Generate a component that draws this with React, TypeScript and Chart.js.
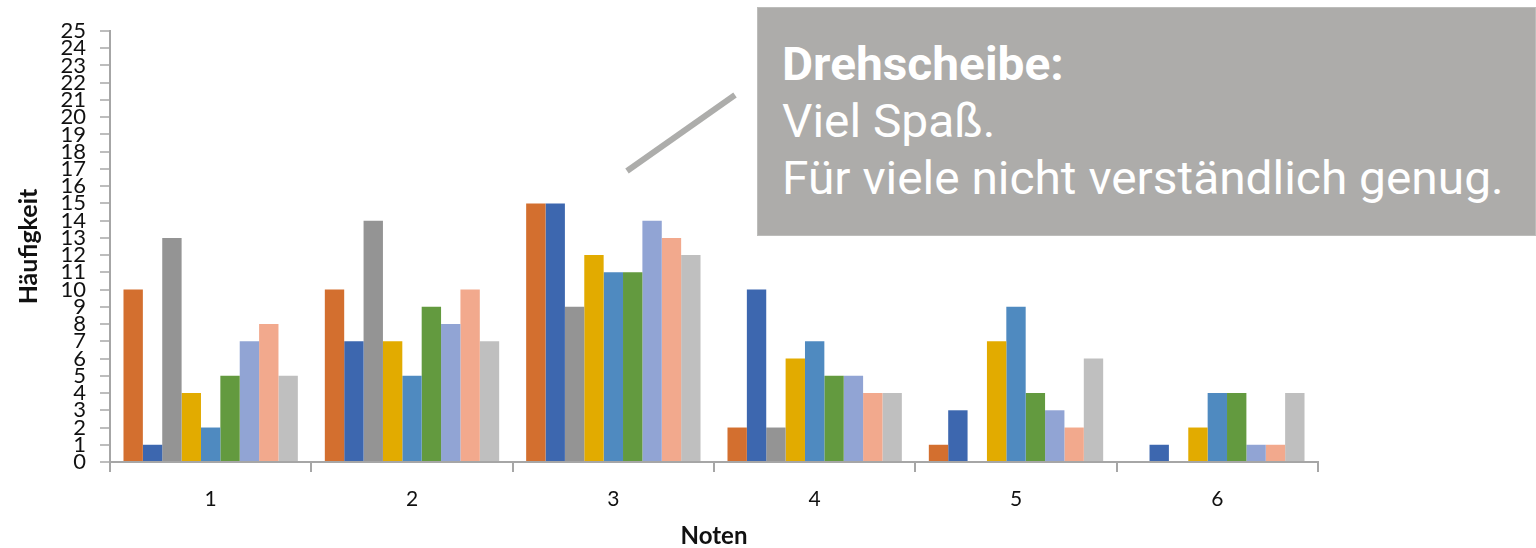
import React, { useEffect, useRef } from "react";
import { Chart, registerables } from "chart.js";

Chart.register(...registerables);

const categories = ["1", "2", "3", "4", "5", "6"];
const series1 = [10, 10, 15, 2, 1, 0];
const series2 = [1, 7, 15, 10, 3, 1];
const series3 = [13, 14, 9, 2, 0, 0];
const series4 = [4, 7, 12, 6, 7, 2];
const series5 = [2, 5, 11, 7, 9, 4];
const series6 = [5, 9, 11, 5, 4, 4];
const series7 = [7, 8, 14, 5, 3, 1];
const series8 = [8, 10, 13, 4, 2, 1];
const series9 = [5, 7, 12, 4, 6, 4];
const seriesList = [series1, series2, series3, series4, series5, series6, series7, series8, series9];
const seriesColors = ["#D36F2F", "#3D67AF", "#949494", "#E2AB00", "#4F8AC0", "#639A3F", "#91A4D4", "#F2A98D", "#BFBFBF"];
const yTicks = Array.from({ length: 26 }, (_, i) => i);

export default function App() {
  const canvasRef = useRef<HTMLCanvasElement | null>(null);

  useEffect(() => {
    if (!canvasRef.current) return;
    const chart = new Chart(canvasRef.current, {
      type: "bar",
      data: {
        labels: categories,
        datasets: seriesList.map((d, i) => ({
          label: "Reihe " + (i + 1),
          data: d,
          backgroundColor: seriesColors[i],
          borderWidth: 0,
          barPercentage: 1,
          categoryPercentage: 0.866,
        })),
      },
      options: {
        responsive: false,
        animation: false,
        layout: { padding: { left: 0, right: 218, top: 31, bottom: 0 } },
        plugins: { legend: { display: false }, tooltip: { enabled: false } },
        scales: {
          x: {
            afterFit: (s: any) => { s.height = 86; },
            grid: { display: true, drawOnChartArea: false, drawTicks: true, tickLength: 10, color: "#A6A6A6", lineWidth: 2, offset: true },
            border: { display: true, color: "#A6A6A6", width: 2 },
            ticks: { font: { family: "Lato", size: 21 }, color: "#111", padding: 15 },
            title: { display: true, text: "Noten", font: { family: "Lato", size: 24, weight: "bold", lineHeight: 1 }, color: "#111", padding: { top: 4, bottom: 0 } },
          },
          y: {
            min: 0,
            max: 25,
            afterFit: (s: any) => { s.width = 110; },
            afterBuildTicks: (s: any) => { s.ticks = yTicks.map((v) => ({ value: v })); },
            grid: { display: true, drawOnChartArea: false, drawTicks: true, tickLength: 10, color: "#BDBDBD", lineWidth: 2 },
            border: { display: true, color: "#A6A6A6", width: 2 },
            ticks: { stepSize: 1, autoSkip: false, font: { family: "Lato", size: 22 }, color: "#111", padding: 14 },
            title: { display: true, text: "Häufigkeit", font: { family: "Lato", size: 25, weight: "bold", lineHeight: 1.2 }, color: "#111", padding: { top: 14, bottom: 0 } },
          },
        },
      },
    });
    return () => chart.destroy();
  }, []);

  return (
    <div style={{ position: "absolute", left: 0, top: 0, width: 1536, height: 548, background: "#fff", overflow: "hidden" }}>
      <canvas ref={canvasRef} width={1536} height={548} style={{ position: "absolute", left: 0, top: 0 }} />
      <svg width={1536} height={548} style={{ position: "absolute", left: 0, top: 0, pointerEvents: "none" }}>
        <line x1={627} y1={171} x2={735} y2={95} stroke="#ADADAB" strokeWidth={6} />
      </svg>
      <div
        style={{
          position: "absolute",
          left: 757,
          top: 7,
          width: 779,
          height: 229,
          background: "#ADACAA",
          boxSizing: "border-box",
          border: "1px solid #BDBDBB",
          color: "#fff",
          fontFamily: "Roboto",
          fontSize: 46,
          lineHeight: "57px",
          padding: "28px 0 0 24px",
          whiteSpace: "nowrap",
        }}
      >
        <div style={{ transform: "scaleX(1.04)", transformOrigin: "left top" }}>
          <div style={{ fontWeight: "bold" }}>Drehscheibe:</div>
          <div>Viel Spaß.</div>
          <div>Für viele nicht verständlich genug.</div>
        </div>
      </div>
    </div>
  );
}
